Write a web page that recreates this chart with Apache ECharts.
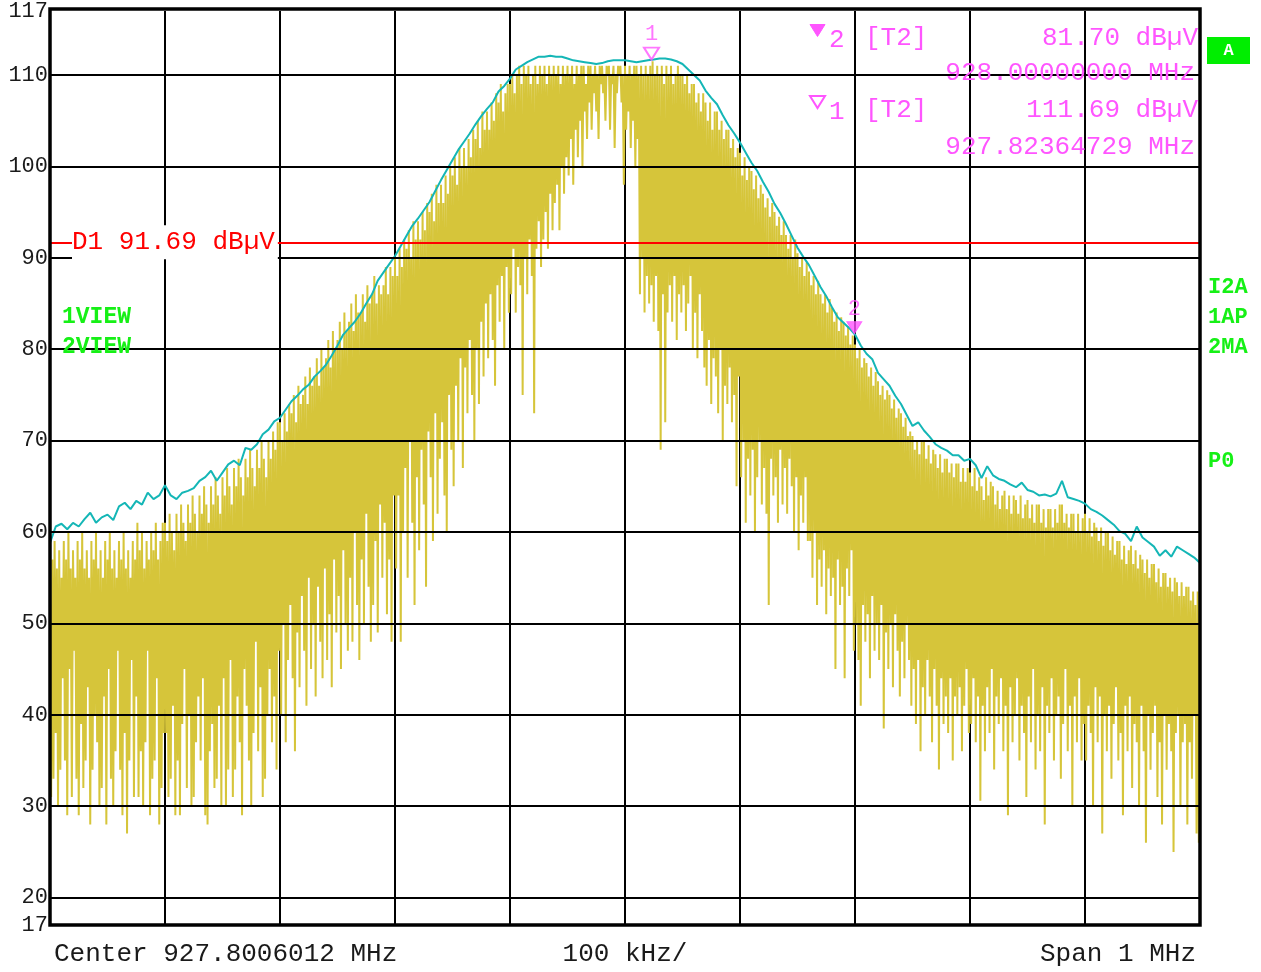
<!DOCTYPE html>
<html><head><meta charset="utf-8">
<script src="https://cdn.jsdelivr.net/npm/echarts@6/dist/echarts.min.js"></script>
<style>html,body{margin:0;padding:0;background:#fff;}#c{width:1261px;height:972px;}</style>
</head><body><div id="c"></div>
<script>
// ---- data ----
const centerMHz = 927.8006012;
const spanKHz = 1000;
const divKHz = 100;
const refLevelTop = 117;
const refLevelBottom = 17;

// Trace 1 (clear/write, yellow), one value every 1 kHz from -500 kHz to +500 kHz
const trace1StepKHz = 1;
const trace1 = [
  // -500 .. -401
  53,31,57,33,59,38,56,30,58,34, 55,44,59,35,57,29,60,45,56,31, 58,47,55,33,59,29,57,39,60,32, 56,35,58,43,55,28,59,34,57,40, 60,37,56,30,58,32,55,42,59,28,
  57,45,60,33,56,30,58,36,55,47, 59,34,57,29,60,38,56,27,58,35, 55,46,59,31,57,42,61,31,58,36, 60,30,56,37,59,47,57,29,60,33, 58,35,61,44,57,28,59,32,61,38,
  // -400 .. -301
  61,38,59,31,62,33,60,41,58,29, 62,35,60,29,63,39,61,45,59,32, 63,40,61,30,64,31,62,37,60,42, 64,35,62,44,65,29,63,28,61,36, 65,39,63,32,66,33,64,41,62,30,
  66,44,64,30,67,34,65,46,63,31, 67,34,65,42,68,37,66,29,64,45, 68,41,66,35,69,30,67,38,65,48, 69,36,67,43,70,31,68,33,66,40, 70,45,68,37,71,42,69,34,72,47,
  // -300 .. -201
  72,40,70,50,73,37,71,46,74,52, 73,44,75,36,72,49,76,43,74,53, 75,47,77,41,74,55,78,45,76,50, 77,42,79,54,76,48,80,44,78,56, 79,46,81,51,78,43,82,57,80,49,
  81,53,83,45,80,58,84,50,82,47, 83,55,85,48,82,60,86,52,84,46, 84,57,86,50,83,62,87,54,85,48, 86,52,88,59,85,49,87,63,86,55, 87,61,89,51,86,57,89,48,88,64,
  // -200 .. -101
  90,56,88,64,91,48,89,60,92,67, 91,55,93,70,90,61,94,52,92,66, 94,58,92,69,95,63,93,54,96,71, 95,66,97,59,94,73,98,62,96,68, 98,72,96,64,99,60,97,75,100,69,
  99,65,101,76,98,70,102,79,100,67, 102,78,100,73,103,81,101,75,104,70, 103,80,105,74,102,83,106,77,104,85, 106,79,104,86,107,81,105,76,108,87, 107,83,109,88,106,80,108,89,109,84,
  // -100 .. -1
  109,86,110,91,108,84,110,89,111,87, 109,75,111,90,110,86,111,92,109,88, 110,73,111,91,109,94,111,89,110,92, 111,95,109,91,111,97,110,93,111,96, 110,98,111,93,109,100,111,97,110,101,
  111,99,110,103,111,98,109,104,111,101, 110,105,111,100,111,106,109,103,111,107, 111,104,110,108,111,106,110,103,111,109, 111,108,110,105,111,110,111,104,110,109, 111,102,110,108,111,110,111,107,110,98,
  // 0 .. 99
  111,104,110,106,111,102,110,105,111,100, 111,103,110,86,111,90,110,84,111,88, 110,85,111,87,111.5,83,110,88,111,82, 110,69,111,86,109,72,111,84,110,87, 111,83,109,88,110,81,111,86,110,84,
  110,87,109,82,110,85,108,88,109,80, 109,84,107,79,108,86,106,82,108,78, 107,76,105,81,107,74,104,79,106,77, 106,73,104,80,105,70,103,76,104,74, 104,78,102,72,103,75,101,65,102,77,
  // 100 .. 199
  101.5,66,99,70,101,61,98.5,68,100,64, 99.5,69,97.5,60,99,66,96.5,70,98,63, 97,67,95.5,62,96.5,52,94.5,68,96,64, 95,66,93.5,61,94.5,69,92.5,63,94,67, 92.5,62,91,68,92.5,65,90,60,92,66,
  90.5,58,89,64,90,61,88,66,89.5,59, 88.5,59,87,55,88,60,86,52,87.5,57, 86,54,85,58,86,51,84,56,85.5,53, 84.5,55,83,45,84,57,82,52,83.5,54, 83,44,81.5,56,82.5,53,80.5,58,81.5,47,
  // 200 .. 299
  80.5,50,79,46,80,41,78,52,79,48, 78.5,51,77,44,78,53,76,47,77.5,50, 76.5,46,75,52,76,38.5,74.5,49,75.5,45, 75,50,73.5,43,74.5,51,72.5,47,73.5,42, 73,48,71.5,44,72.5,50,70.5,46,71,41,
  70.5,45,69,39,70,46,68.5,36,70,43, 70,40,68,46,69.5,42,67.5,37,69,45, 68.5,41,67,34,68.5,44,66.5,39,68,42, 68,38,66.5,44,67.5,35,66,42,67.5,40, 67.5,43,65.5,36,67,41,65.5,45,67,38,
  // 300 .. 399
  66.5,39,65,44,67,37,64.5,42,66,30.6, 65,41,63.5,36,66,43,64,38,65.5,45, 65,34,63,42,64.5,39,62.5,44,64,36, 64.5,41,62.5,29,64,43,62,37,64,40, 63.5,44,62,35,64,41,61.5,38,63,31,
  63.5,42,61.5,37,63,45,61,34,63,40, 63,36,61,43,62.5,28,60.5,41,62.5,38, 62.5,44,60.5,35,62.5,40,61,42,63,33, 63,39,61,45,62,36,60.5,41,62,30, 62,42,60,37,62,44,60,35,61.5,39,
  // 400 .. 500
  62,35,60,41,61.5,38,59.5,30,61,43, 60.5,37,59,42,60.5,27,58.5,40,60,36, 60,41,58,33,59.5,39,57.5,43,59,35, 59,38,57,29,58.5,41,56.5,36,58,42, 58.5,32,56.5,39,58,37,56,30,57.5,41,
  57,36,55.5,26,57,40,55,34,56.5,38, 56.5,41,54.5,31,56,37,54,28,55.5,40, 55.5,34,54,39,55,36,53.5,25,55,38, 54.5,40,53,30,54.5,37,53,39,54,28, 54,37,52.5,33,53.5,40,52,27,53.5,26,
  52
];

// Trace 2 (max hold, cyan), one value every 5 kHz from -500 kHz to +500 kHz
const trace2StepKHz = 5;
const trace2 = [
  58.8,60.6,60.9,60.3,61.0,60.6,61.4,62.1,61.0,61.6,
  61.9,61.3,62.8,63.2,62.5,63.4,63.0,64.3,63.6,64.0,
  65.1,64.0,63.6,64.3,64.5,64.8,65.6,66.0,66.7,65.6,
  66.5,67.4,67.8,67.3,69.2,69.0,69.6,70.7,71.2,72.1,
  72.5,73.4,74.3,74.9,75.6,76.1,77.0,77.6,78.3,79.3,
  80.4,81.6,82.3,83.0,83.9,85.0,86.0,87.5,88.4,89.3,
  90.2,91.3,92.4,93.5,94.3,95.2,96.1,97.3,98.5,99.6,
  100.7,101.8,102.7,103.6,104.6,105.5,106.3,107.0,108.2,108.8,
  109.6,110.6,111.0,111.4,111.7,112.0,112.0,112.1,112.0,112.0,
  111.8,111.6,111.5,111.4,111.3,111.2,111.3,111.5,111.6,111.6,
  111.6,111.5,111.4,111.5,111.6,111.69,111.8,111.8,111.7,111.5,
  111.2,110.6,110.0,109.4,108.3,107.5,106.8,105.6,104.5,103.6,
  102.6,101.5,100.4,99.5,98.3,97.2,95.9,94.9,93.7,92.4,
  91.1,90.1,89.2,88.0,86.8,85.8,84.6,83.5,82.9,82.3,
  81.6,80.4,79.5,78.9,77.4,76.7,76.0,74.9,74.0,72.8,
  71.6,72.0,71.1,70.4,69.6,69.2,68.9,68.4,68.4,67.8,
  68.0,67.3,65.9,67.2,66.2,65.8,65.6,65.2,64.9,65.4,
  64.6,64.4,64.0,64.1,63.9,64.2,65.6,63.8,63.6,63.4,
  63.1,62.5,62.2,61.8,61.3,60.8,60.1,59.8,59.0,60.6,
  59.4,58.9,58.4,57.4,58.0,57.3,58.4,58.0,57.6,57.2,
  56.6
];

const yLabelValues = [17,20,30,40,50,60,70,80,90,100,110,117];
const yGridValues = [20,30,40,50,60,70,80,90,100,110];
const displayLineName = 'D1';
const displayLineLevel = 91.69;
const markerNames = ['1','2'];
const markerFreqMHz = [927.82364729, 928.0];
const markerLevel = [111.69, 81.70];
const markerTrace = ['T2','T2'];
const leftStatus = ['1VIEW','2VIEW'];
const rightStatus = ['I2A','1AP','2MA'];
const rightStatus2 = 'P0';
const unit = 'dB\u00b5V';

// ---- chart ----
const MONO = 'Liberation Mono';
const MAG = '#ff55ff';
const GREEN = '#16f016';
const YELLOW = '#d6c53a';
const CYAN = '#14b6b6';

const startKHz = -spanKHz / 2;
const t1 = trace1.map((v, i) => [startKHz + i * trace1StepKHz, v]);
const t2 = trace2.map((v, i) => [startKHz + i * trace2StepKHz, v]);
const markerOffsets = markerFreqMHz.map(f => (f - centerMHz) * 1000);

const chart = echarts.init(document.getElementById('c'), null, {renderer: 'canvas'});
const G = {left: 50, right: 61, top: 9, bottom: 47};

const option = {
  animation: false,
  backgroundColor: '#ffffff',
  grid: Object.assign({show: false}, G),
  xAxis: {
    type: 'value', min: startKHz, max: -startKHz, interval: divKHz,
    axisLine: {show: false}, axisTick: {show: false}, axisLabel: {show: false},
    splitLine: {show: true, lineStyle: {color: '#000', width: 2}}
  },
  yAxis: {
    type: 'value', min: refLevelBottom, max: refLevelTop,
    axisLine: {show: false}, axisTick: {show: false},
    splitLine: {show: false},
    axisLabel: {customValues: yLabelValues, fontFamily: MONO, fontSize: 22, color: '#1a1a1a', margin: 2, showMinLabel: true, showMaxLabel: true}
  },
  series: [
    {
      type: 'line', name: 'grid', data: [], z: 1, silent: true,
      markLine: {
        silent: true, symbol: ['none','none'], animation: false,
        label: {show: false},
        lineStyle: {color: '#000', width: 2, type: 'solid'},
        data: yGridValues.map(v => ({yAxis: v}))
      }
    },
    {
      type: 'line', name: 'Trace 1', data: t1, z: 2, symbol: 'none', silent: true,
      lineStyle: {color: YELLOW, width: 2}, itemStyle: {color: YELLOW}
    },
    {
      type: 'line', name: 'Trace 2', data: t2, z: 3, symbol: 'none', silent: true,
      lineStyle: {color: CYAN, width: 2}, itemStyle: {color: CYAN}
    },
    {
      type: 'line', name: 'display line', data: [], z: 5, silent: true,
      markLine: {
        silent: true, symbol: ['none','none'], animation: false,
        label: {show: false},
        lineStyle: {color: '#ff0000', width: 2, type: 'solid'},
        data: [{yAxis: displayLineLevel}]
      }
    },
    {
      type: 'scatter', name: 'markers', z: 6, silent: true,
      symbol: 'triangle', symbolRotate: 180, symbolSize: [15, 12], symbolOffset: [0, -6],
      data: markerOffsets.map((x, i) => ({
        value: [x, markerLevel[i]],
        itemStyle: i === 0
          ? {color: 'rgba(255,255,255,0)', borderColor: MAG, borderWidth: 2}
          : {color: MAG, borderColor: MAG, borderWidth: 1},
        label: {show: true, position: 'top', distance: 1, formatter: markerNames[i],
                fontFamily: MONO, fontSize: 22, color: MAG}
      }))
    }
  ]
};
chart.setOption(option);

// ---- annotations ----
const W = 1261, H = 972;
const x0 = G.left, x1 = W - G.right, y0 = G.top, y1 = H - G.bottom;
const dlY = chart.convertToPixel({yAxisIndex: 0}, displayLineLevel);

function txt(x, y, text, o) {
  return {type: 'text', x: x, y: y, z: 100, silent: true,
    style: Object.assign({text: text, fontFamily: MONO, fontSize: 26, fill: MAG,
      align: 'left', verticalAlign: 'middle'}, o || {})};
}
const g = [];
// frame
g.push({type: 'rect', z: 90, silent: true, shape: {x: x0, y: y0, width: x1 - x0, height: y1 - y0},
  style: {fill: 'none', stroke: '#000', lineWidth: 3.5}});
// display line label
g.push(txt(72, dlY, displayLineName + ' ' + displayLineLevel.toFixed(2) + ' ' + unit,
  {fill: '#ff0000', backgroundColor: '#ffffff', padding: [4, 3, 4, 0]}));
// marker info block
const rows = [[38.5, 73.5], [110, 147.5]];
[1, 0].forEach((mi, r) => {
  const ry = rows[r][0];
  const filled = mi === 1;
  g.push({type: 'polygon', z: 100, silent: true,
    shape: {points: [[810, ry - 14], [825, ry - 14], [817.5, ry - 2]]},
    style: filled ? {fill: MAG, stroke: MAG, lineWidth: 1} : {fill: 'none', stroke: MAG, lineWidth: 2}});
  g.push(txt(829, ry + 2, markerNames[mi]));
  g.push(txt(865, ry, '[' + markerTrace[mi] + ']'));
  g.push(txt(1198, ry, markerLevel[mi].toFixed(2) + ' ' + unit, {align: 'right'}));
  g.push(txt(1195, rows[r][1], markerFreqMHz[mi].toFixed(8) + ' MHz', {align: 'right'}));
});
// status labels
leftStatus.forEach((s, i) => g.push(txt(62, 317 + i * 30, s, {fill: GREEN, fontWeight: 'bold', fontSize: 23})));
rightStatus.forEach((s, i) => g.push(txt(1208, 287 + i * 30, s, {fill: GREEN, fontWeight: 'bold', fontSize: 22})));
g.push(txt(1208, 461, rightStatus2, {fill: GREEN, fontWeight: 'bold', fontSize: 22}));
// A box
g.push({type: 'rect', z: 100, silent: true, shape: {x: 1207, y: 37, width: 43, height: 27}, style: {fill: '#00ee00'}});
g.push(txt(1228.5, 50.5, 'A', {fill: '#ffffff', fontWeight: 'bold', fontSize: 17, align: 'center'}));
// bottom texts
const BOT = '#1a1a1a';
g.push(txt(54, 954, 'Center ' + centerMHz.toFixed(7) + ' MHz', {fill: BOT}));
g.push(txt((x0 + x1) / 2, 954, divKHz + ' kHz/', {fill: BOT, align: 'center'}));
g.push(txt(1196, 954, 'Span ' + (spanKHz / 1000) + ' MHz', {fill: BOT, align: 'right'}));

chart.setOption({graphic: {elements: g}});
</script>
</body></html>
